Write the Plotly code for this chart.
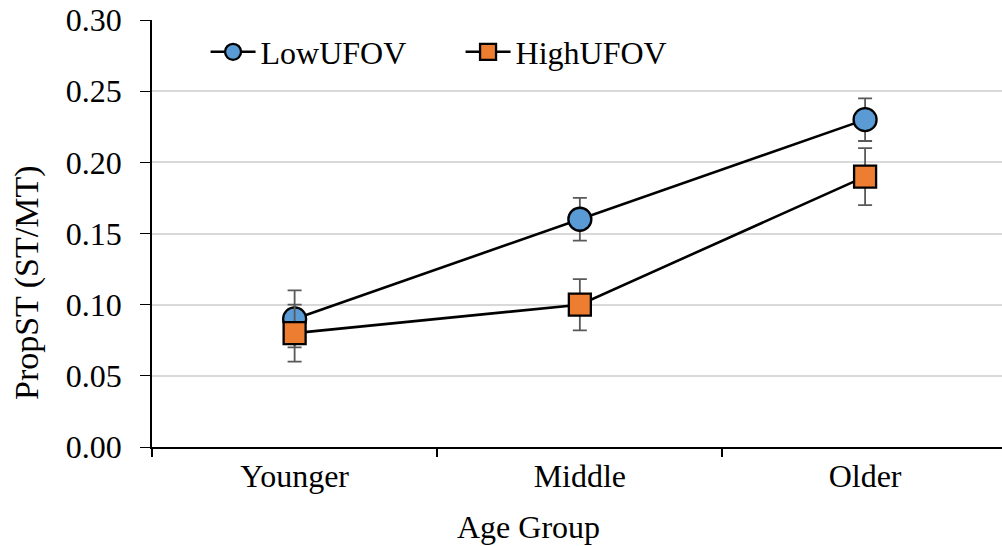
"""PropST by age group for low and high UFOV groups."""

import plotly.graph_objects as go

GROUPS = ["Younger", "Middle", "Older"]

LOW_UFOV = [0.09, 0.16, 0.23]
LOW_ERR = [0.02, 0.015, 0.015]

HIGH_UFOV = [0.08, 0.10, 0.19]
HIGH_ERR = [0.02, 0.018, 0.02]

FONT = "Liberation Serif, Times New Roman, serif"


def err(values):
    return dict(type="data", array=values, color="#595959", thickness=1.8, width=7)


fig = go.Figure()
fig.add_trace(
    go.Scatter(
        x=GROUPS,
        y=LOW_UFOV,
        name="LowUFOV",
        mode="lines+markers",
        line=dict(color="black", width=2.6),
        marker=dict(symbol="circle", size=23, color="#5B9BD5",
                    line=dict(color="black", width=2.3)),
        error_y=err(LOW_ERR),
    )
)
fig.add_trace(
    go.Scatter(
        x=GROUPS,
        y=HIGH_UFOV,
        name="HighUFOV",
        mode="lines+markers",
        line=dict(color="black", width=2.6),
        marker=dict(symbol="square", size=22, color="#ED7D31",
                    line=dict(color="black", width=2.3)),
        error_y=err(HIGH_ERR),
    )
)

fig.update_layout(
    width=1002,
    height=546,
    margin=dict(l=152, r=0, t=20, b=99),
    plot_bgcolor="white",
    paper_bgcolor="white",
    font=dict(family=FONT, size=32, color="black"),
    showlegend=True,
    legend=dict(
        orientation="h",
        x=0.063,
        y=0.925,
        xanchor="left",
        yanchor="middle",
        bgcolor="rgba(0,0,0,0)",
        font=dict(family=FONT, size=32),
        itemwidth=45,
        entrywidth=195,
    ),
    annotations=[
        dict(
            text="PropST (ST/MT)",
            textangle=-90,
            xref="paper", yref="paper",
            x=0, y=0.384,
            xshift=-125,
            xanchor="center", yanchor="middle",
            showarrow=False,
            font=dict(family=FONT, size=34),
        ),
        dict(
            text="Age Group",
            xref="paper", yref="paper",
            x=0.4435, y=0,
            yshift=-80,
            xanchor="center", yanchor="middle",
            showarrow=False,
            font=dict(family=FONT, size=32),
        ),
    ],
)
fig.update_xaxes(
    automargin=False,
    range=[-0.5, 2.48],
    tickson="boundaries",
    ticks="outside",
    ticklen=8,
    tickwidth=1.5,
    tickcolor="black",
    showline=True,
    linecolor="black",
    linewidth=2,
    showgrid=False,
)
fig.update_yaxes(
    automargin=False,
    range=[0, 0.30],
    dtick=0.05,
    tickformat=".2f",
    ticks="outside",
    ticklen=10,
    tickcolor="black",
    ticklabelstandoff=12,
    showline=True,
    linecolor="black",
    linewidth=1.5,
    gridcolor="#D9D9D9",
    gridwidth=1.5,
    zeroline=False,
)

# drop the default body margin so the figure fills the window
fig.write_html(
    "out.html",
    config={"displayModeBar": False},
    post_script="document.body.style.margin = '0';",
)
